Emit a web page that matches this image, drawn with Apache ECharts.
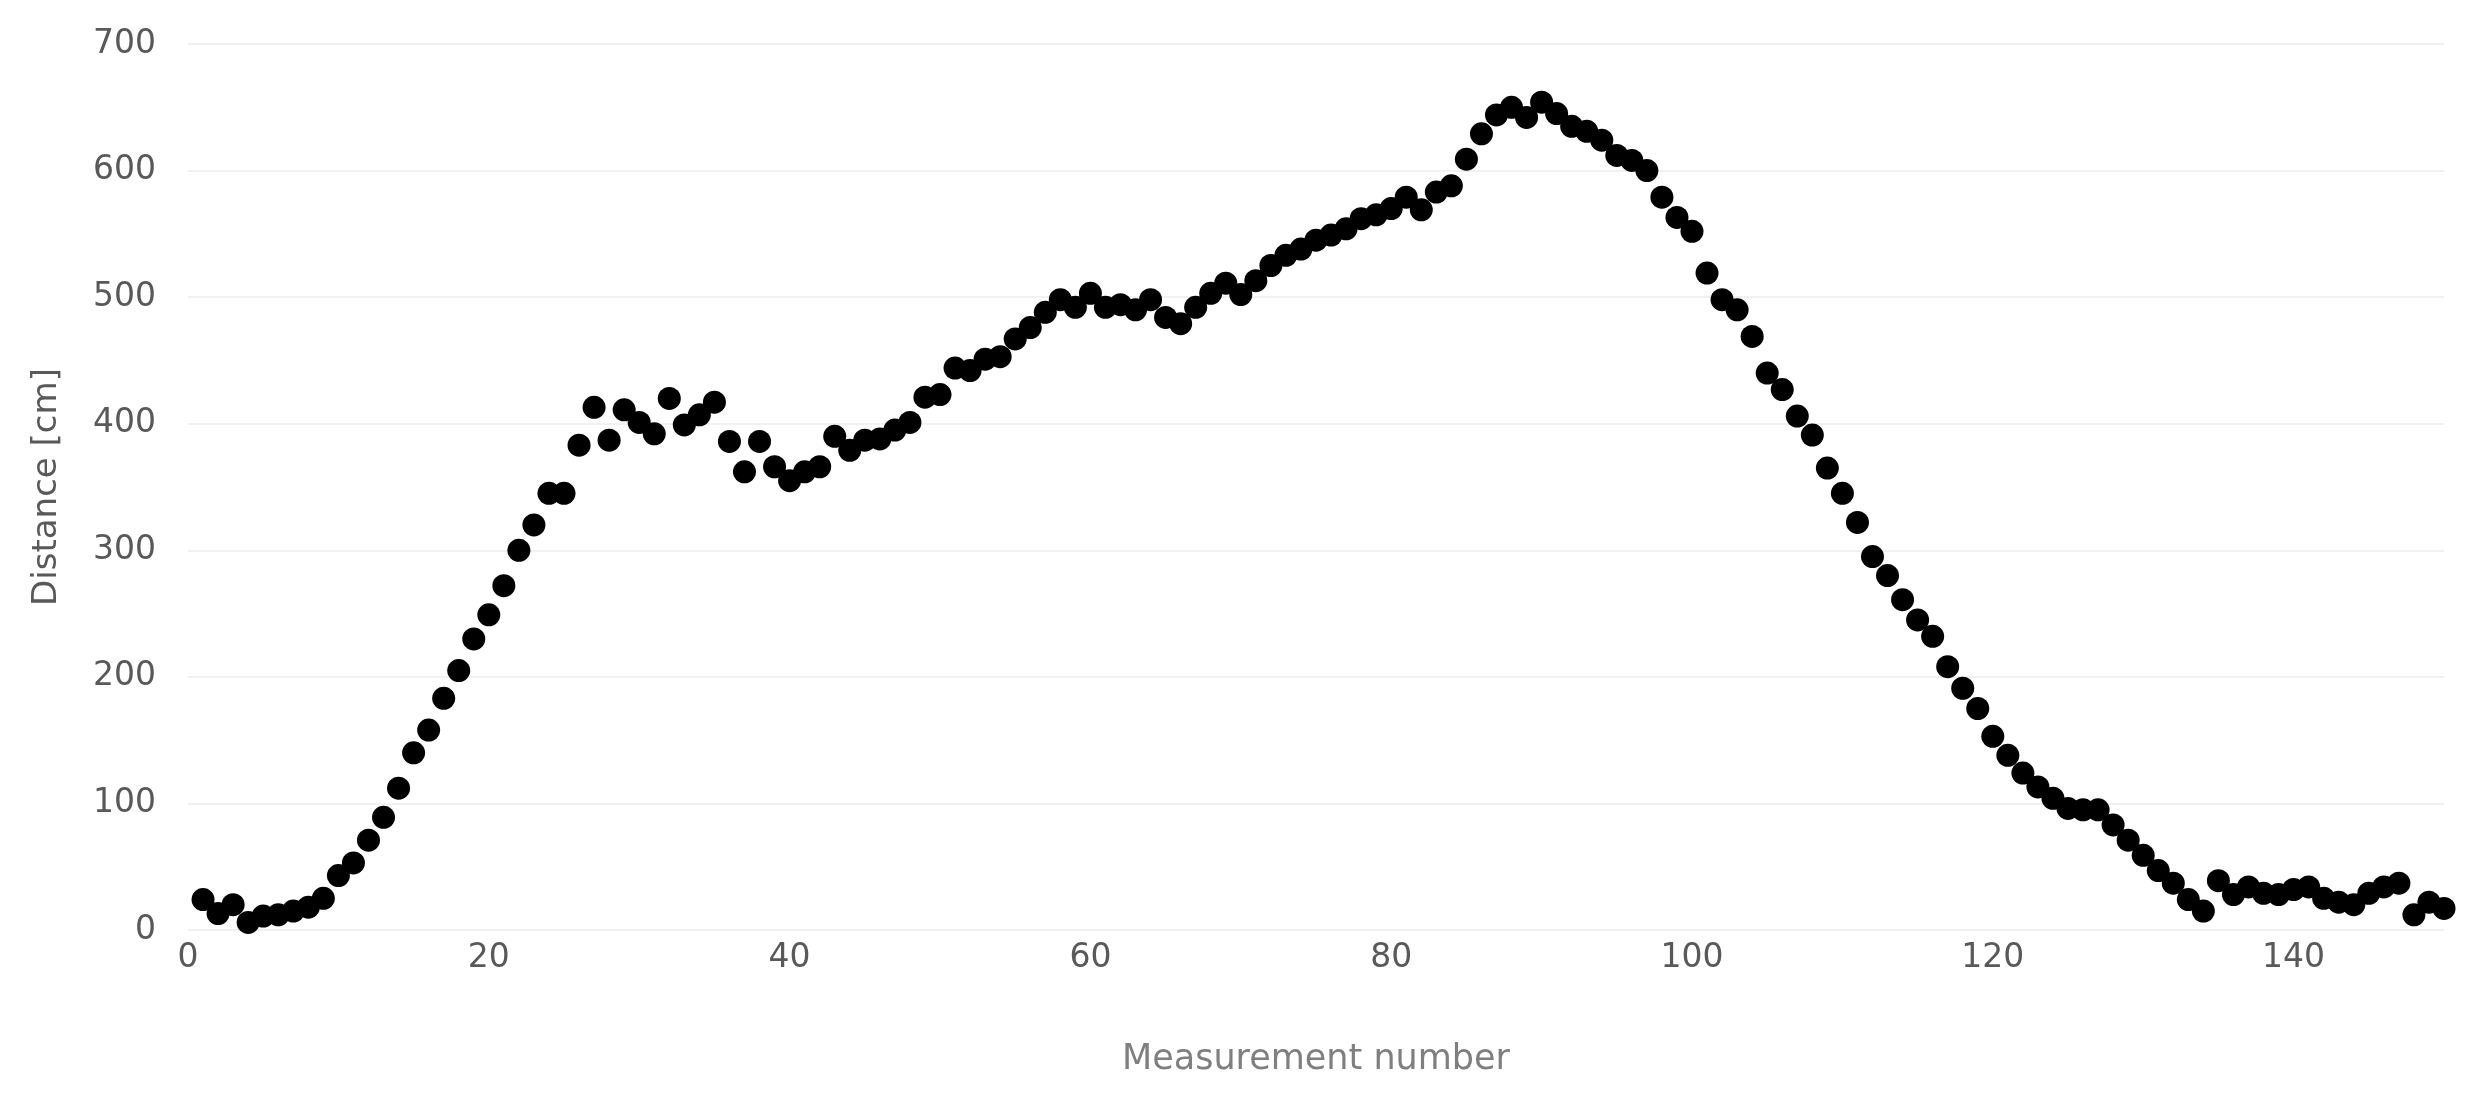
<!DOCTYPE html>
<html>
<head>
<meta charset="utf-8">
<title>Distance per measurement</title>
<script src="https://cdn.jsdelivr.net/npm/echarts@6/dist/echarts.min.js"></script>
<style>
  html, body { margin: 0; padding: 0; background: #fff; }
  #chart { width: 2471px; height: 1102px; }
</style>
</head>
<body>
<div id="chart"></div>
<script>
// measurement numbers 1..150 and the distance read for each
var measurement = [];
for (var i = 1; i <= 150; i++) { measurement.push(i); }

var distance = [
  24, 13, 20, 6, 11, 12, 15, 18, 25, 43,
  53, 71, 89, 112, 140, 158, 183, 205, 230, 249,
  272, 300, 320, 345, 345, 383, 413, 387, 411, 401,
  392, 420, 399, 407, 417, 386, 362, 386, 366, 355,
  362, 366, 390, 379, 387, 388, 395, 401, 421, 423,
  444, 442, 451, 453, 467, 476, 488, 498, 492, 503,
  492, 494, 490, 498, 484, 479, 492, 503, 511, 502,
  513, 525, 533, 538, 545, 549, 554, 562, 565, 570,
  579, 569, 583, 588, 609, 629, 644, 650, 642, 654,
  645, 635, 631, 624, 612, 608, 600, 579, 563, 552,
  519, 498, 490, 469, 440, 427, 406, 391, 365, 345,
  322, 295, 280, 261, 245, 232, 208, 191, 175, 153,
  138, 124, 113, 104, 96, 95, 95, 83, 71, 59,
  47, 37, 24, 15, 39, 28, 34, 29, 28, 32,
  34, 25, 22, 20, 29, 34, 37, 12, 22, 17
];

var xTicks = [0, 20, 40, 60, 80, 100, 120, 140];
var yTicks = [0, 100, 200, 300, 400, 500, 600, 700];

var points = [];
for (var k = 0; k < measurement.length; k++) {
  points.push([measurement[k], distance[k]]);
}

var chart = echarts.init(document.getElementById('chart'));
var font = '"DejaVu Sans", sans-serif';
chart.setOption({
  animation: false,
  backgroundColor: '#ffffff',
  grid: { left: 188, right: 27, top: 44, bottom: 172 },
  xAxis: {
    type: 'value',
    min: xTicks[0],
    max: 150,
    interval: 20,
    name: 'Measurement number',
    nameLocation: 'middle',
    nameGap: 112,
    nameTextStyle: { color: '#7f7f7f', fontSize: 35, fontFamily: font },
    axisLine: { show: false },
    axisTick: { show: false },
    splitLine: { show: false },
    axisLabel: {
      color: '#595959', fontSize: 33, fontFamily: font, margin: 12,
      showMaxLabel: false
    }
  },
  yAxis: {
    type: 'value',
    min: yTicks[0],
    max: yTicks[yTicks.length - 1],
    interval: 100,
    name: 'Distance [cm]',
    nameLocation: 'middle',
    nameGap: 124,
    nameTextStyle: { color: '#595959', fontSize: 34, fontFamily: font },
    axisLine: { show: false },
    axisTick: { show: false },
    splitLine: { lineStyle: { color: '#f1f1f1', width: 2 } },
    axisLabel: { color: '#595959', fontSize: 33, fontFamily: font, margin: 32 }
  },
  series: [{
    type: 'scatter',
    data: points,
    symbol: 'circle',
    symbolSize: 23,
    itemStyle: { color: '#000000', opacity: 1 }
  }]
});
</script>
</body>
</html>
